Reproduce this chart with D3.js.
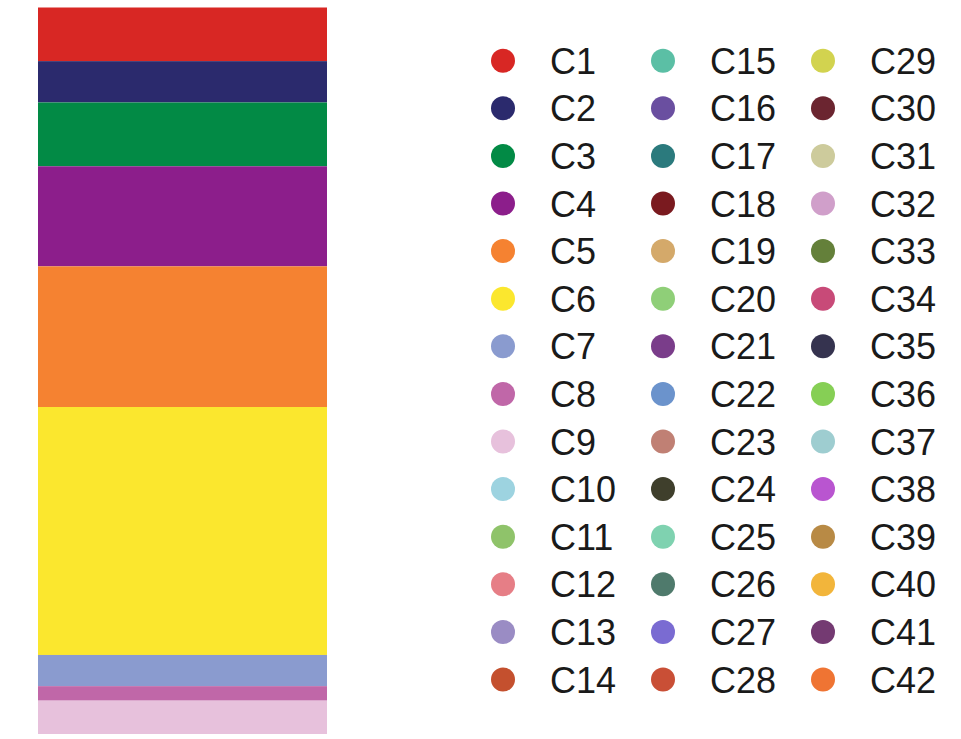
<!DOCTYPE html>
<html>
<head>
<meta charset="utf-8">
<script src="https://cdn.jsdelivr.net/npm/d3@7"></script>
<style>
  html, body { margin: 0; padding: 0; background: #fff; }
  svg { display: block; }
</style>
</head>
<body>
<svg id="chart" width="961" height="739"></svg>
<script>
// ---- data ----
const categories = ["C1","C2","C3","C4","C5","C6","C7","C8","C9","C10","C11","C12","C13","C14",
  "C15","C16","C17","C18","C19","C20","C21","C22","C23","C24","C25","C26","C27","C28",
  "C29","C30","C31","C32","C33","C34","C35","C36","C37","C38","C39","C40","C41","C42"];
const values = [7.4, 5.7, 8.8, 13.8, 19.4, 34.2, 4.3, 2.0, 4.6, 0, 0, 0, 0, 0,
  0, 0, 0, 0, 0, 0, 0, 0, 0, 0, 0, 0, 0, 0,
  0, 0, 0, 0, 0, 0, 0, 0, 0, 0, 0, 0, 0, 0];
const colors = ["#d82724","#2b2a6d","#028a45","#8c1e8b","#f58231","#fbe72e","#8a9bcf","#c067a8","#e7c1dc",
  "#9dd3e0","#8fc36a","#e67e86","#9a8cc4","#c4502e",
  "#5bbfa5","#6a4fa0","#2b7a7d","#7a1a1f","#d4a96a","#8fcf78","#7a3d8a",
  "#6b93cc","#c08074","#3f3f2c","#7fd2b0","#4f7a6c","#7a6bd2","#c94f36",
  "#d2d34f","#6b2530","#cdcb9c","#d09fca","#64803a","#c84a78","#35334f",
  "#86cf55","#9ecdd0","#b955d0","#b88a45","#f2b53b","#743a72","#ef7433"];

// ---- layout ----
const svg = d3.select("#chart");
const total = d3.sum(values);
const barLeft = 38, barRight = 327, barTop = 7.5, barBottom = 734;

const y = d3.scaleLinear().domain([0, total]).range([barTop, barBottom]);
const x = d3.scaleBand().domain(["all"]).range([barLeft, barRight]).padding(0);

const rows = categories.map((c, i) => ({ c, v: values[i], col: colors[i] }));
let acc = 0;
rows.forEach(r => { r.y0 = acc; acc += r.v; r.y1 = acc; });

svg.append("g").selectAll("rect")
  .data(rows.filter(r => r.v > 0))
  .join("rect")
  .attr("x", x("all"))
  .attr("width", x.bandwidth())
  .attr("y", d => y(d.y0))
  .attr("height", d => y(d.y1) - y(d.y0))
  .attr("fill", d => d.col);

// ---- legend ----
const perCol = 14;
const legX = d3.scaleLinear().domain([0, 1]).range([503, 663]);
const legY = d3.scaleLinear().domain([0, 1]).range([60.7, 108.3]);

const leg = svg.append("g").selectAll("g")
  .data(rows)
  .join("g")
  .attr("transform", (d, i) => `translate(${legX(Math.floor(i / perCol))},${legY(i % perCol)})`);

leg.append("circle").attr("r", 12).attr("fill", d => d.col);
leg.append("text")
  .attr("x", 47)
  .attr("y", 13)
  .attr("font-family", "'Liberation Sans', Arial, sans-serif")
  .attr("font-size", 36)
  .attr("fill", "#1a1a1a")
  .text(d => d.c);
</script>
</body>
</html>
